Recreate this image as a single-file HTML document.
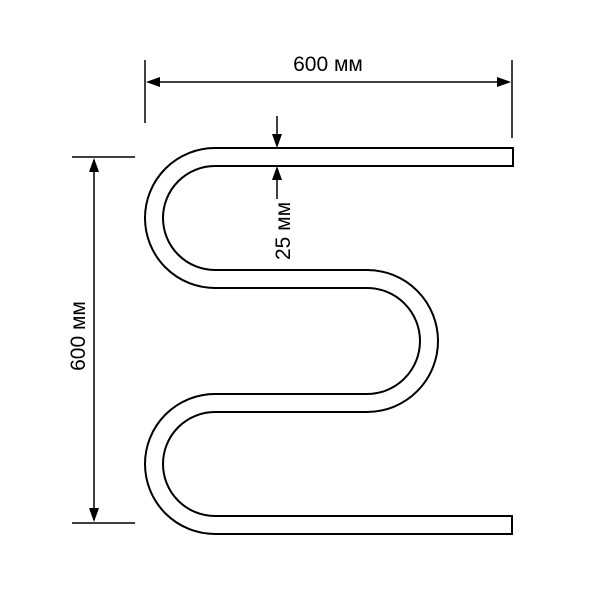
<!DOCTYPE html>
<html><head><meta charset="utf-8"><style>html,body{margin:0;padding:0;background:#fff}svg{display:block}</style></head>
<body>
<svg width="600" height="600" viewBox="0 0 600 600" xmlns="http://www.w3.org/2000/svg">
<g fill="none" stroke="#000" stroke-width="2">
<path d="M513 148 H215 A70 70 0 0 0 215 288 H367 A53 53 0 0 1 367 394 H215 A70 70 0 0 0 215 534 H512 V516 H215 A52 52 0 0 1 215 412 H367 A71 71 0 0 0 367 270 H215 A52 52 0 0 1 215 166 H513 Z"/>
</g>
<g stroke="#000" stroke-width="1.5" fill="none">
<line x1="145" y1="60" x2="145" y2="123"/>
<line x1="512" y1="60" x2="512" y2="138"/>
<line x1="148" y1="82" x2="509" y2="82"/>
<line x1="72" y1="157" x2="135" y2="157"/>
<line x1="72" y1="523" x2="135" y2="523"/>
<line x1="94" y1="160" x2="94" y2="520"/>
<line x1="277" y1="116" x2="277" y2="140"/>
<line x1="277" y1="175" x2="277" y2="199"/>
</g>
<g fill="#000">
<polygon points="146,82 160,77 160,87"/>
<polygon points="511,82 497,77 497,87"/>
<polygon points="94,158 89,172 99,172"/>
<polygon points="94,522 89,508 99,508"/>
<polygon points="277,148 272,134 282,134"/>
<polygon points="277,166 272,180 282,180"/>
</g>
<g font-family="Liberation Sans, sans-serif" font-size="21" fill="#000" text-anchor="middle">
<text x="328" y="71">600 мм</text>
<text transform="translate(85,336) rotate(-90)">600 мм</text>
<text transform="translate(290,231) rotate(-90)">25 мм</text>
</g>
</svg>
</body></html>
